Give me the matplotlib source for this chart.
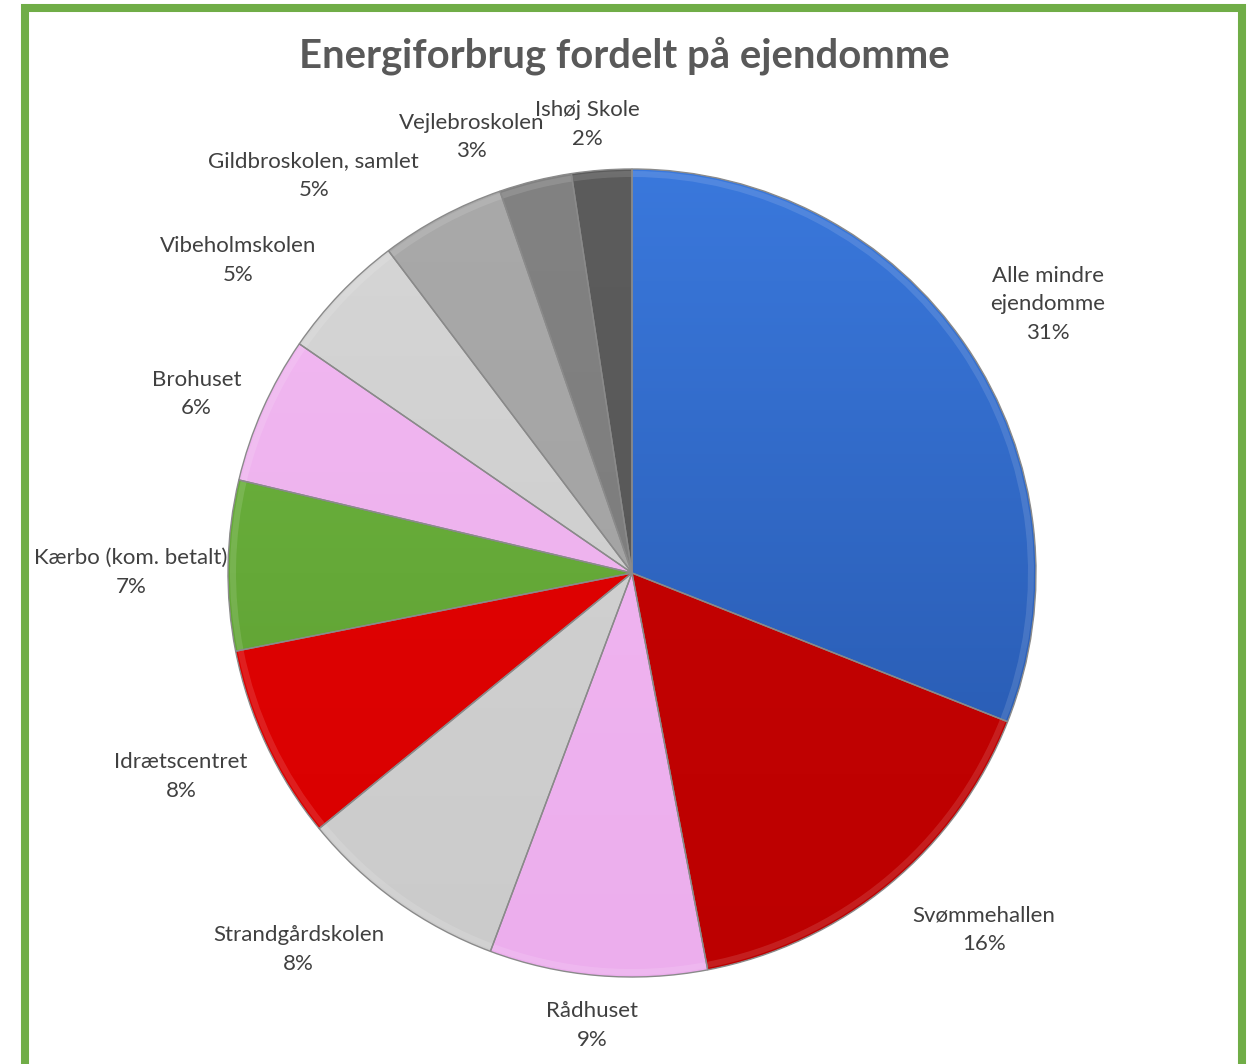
import numpy as np
import matplotlib
matplotlib.use("Agg")
import matplotlib.pyplot as plt
from matplotlib.colors import LinearSegmentedColormap
from matplotlib.patches import Rectangle, Wedge

# ---------------- data ----------------
title = "Energiforbrug fordelt på ejendomme"
categories = ["Alle mindre\nejendomme", "Svømmehallen", "Rådhuset", "Strandgårdskolen",
              "Idrætscentret", "Kærbo (kom. betalt)", "Brohuset", "Vibeholmskolen",
              "Gildbroskolen, samlet", "Vejlebroskolen", "Ishøj Skole"]
values = [31.0, 16.0, 8.7, 8.4, 7.8, 6.8, 5.9, 5.1, 5.0, 2.9, 2.4]
colors = ["#2f66c8", "#c20000", "#efb3f0", "#d0d0d0", "#e00000", "#64aa38",
          "#efb3f0", "#d0d0d0", "#a6a6a6", "#7f7f7f", "#595959"]
# top / bottom colours of the gentle vertical gradient on each slice
top_colors = ["#3a78dc", "#c80404", "#f2b8f2", "#d4d4d4", "#e40404", "#70b840",
              "#f2b8f2", "#d6d6d6", "#a9a9a9", "#828282", "#5c5c5c"]
bottom_colors = ["#2453a6", "#bc0000", "#ecaeed", "#cbcbcb", "#d80000", "#5a9a30",
                 "#eaaeea", "#c9c9c9", "#a0a0a0", "#7a7a7a", "#555555"]

# label layout (distance in radii, angular offset from wedge middle in degrees)
label_dist = [1.225, 1.24, 1.125, 1.245, 1.225, 1.24, 1.165, 1.245, 1.26, 1.15, 1.115]
label_dang = [-1.3, 5.0, -0.2, -5.9, -0.9, 1.0, 1.6, 5.3, 10.6, 6.3, 1.4]

W, H = 1248, 1064
CX, CY = 632, 573
R = 404

plt.rcParams['font.family'] = ['Lato', 'DejaVu Sans']
fig = plt.figure(figsize=(W / 100, H / 100), dpi=100)
ax = fig.add_axes([0, 0, 1, 1])
ax.set_axis_off()

wedges, _ = ax.pie(values, colors=colors, startangle=90, counterclock=False,
                   radius=R, center=(0, 0), frame=True,
                   wedgeprops=dict(linewidth=1.0, edgecolor="#8a8a8a"))

grad = np.linspace(0, 1, 256).reshape(-1, 1)
for w, ct, cb in zip(wedges, top_colors, bottom_colors):
    cmap = LinearSegmentedColormap.from_list("g", [cb, ct])
    im = ax.imshow(grad, extent=[-R, R, -R, R], cmap=cmap, origin="lower",
                   aspect="auto", zorder=1.5, interpolation="bilinear")
    im.set_clip_path(w)
    # bevel highlight along the outer rim
    rim = Wedge((0, 0), R - 2, w.theta1, w.theta2, width=6,
                facecolor="white", alpha=0.12, edgecolor="none", zorder=1.8)
    ax.add_patch(rim)
    w.set_zorder(2)
    w.set_facecolor("none")

total = sum(values)
start = 90.0
for i, (lab, v) in enumerate(zip(categories, values)):
    sweep = 360.0 * v / total
    mid = start - sweep / 2
    start -= sweep
    ang = np.deg2rad(mid + label_dang[i])
    x = label_dist[i] * R * np.cos(ang)
    y = label_dist[i] * R * np.sin(ang)
    pct = f"{round(100 * v / total):.0f}%"
    ax.text(x, y, f"{lab}\n{pct}", ha="center", va="center", fontsize=16,
            color="#404040", linespacing=1.54, zorder=5)

ax.text(0.5, 1 - 56 / H, title, transform=fig.transFigure, ha="center", va="center",
        fontsize=28.8, fontweight="bold", color="#595959")

# green frame
ax.add_patch(Rectangle((25 - CX, CY - 1072), 1217, 1072 - 8, fill=False,
                       edgecolor="#70ad47", linewidth=5.8, zorder=10, clip_on=False))

ax.set_xlim(-CX, W - CX)
ax.set_ylim(CY - H, CY)
ax.set_aspect("equal")
fig.savefig("out.png", dpi=100, facecolor="white")
